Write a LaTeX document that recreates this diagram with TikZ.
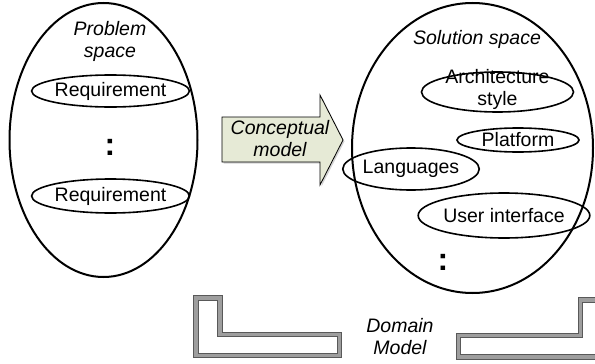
\documentclass[tikz,border=0pt]{standalone}
\usepackage{fontspec}
\setmainfont{Liberation Sans}
\usetikzlibrary{shapes.geometric,shadows}
\begin{document}
\begin{tikzpicture}[x=1pt,y=-1pt,
  space/.style={ellipse, draw, line width=2pt, inner sep=0pt},
  item/.style={ellipse, draw, line width=1.6pt, inner sep=0pt, font=\fontsize{19.5}{22}\selectfont, align=center},
  label/.style={font=\fontsize{19.5}{22}\selectfont\itshape, align=center, inner sep=0pt},
  dots/.style={font=\fontsize{32}{32}\selectfont\bfseries, inner sep=0pt},
  pipe/.style={draw=black!65, line width=1pt, double=black!38, double distance=3.5pt, line join=miter}
]
\useasboundingbox (0,0) rectangle (595,364);
\clip (0,0) rectangle (595,364);

% problem space
\node[space, minimum width=188pt, minimum height=274pt] (ps) at (103.5,140) {};
\node[label] (pst) at (110,41) {Problem\\space};
\node[item, minimum width=152pt, minimum height=32pt] (r1) at (110.5,91) {Requirement};
\node[dots] (pd) at (110,147) {:};
\node[item, minimum width=152pt, minimum height=34pt] (r2) at (110.5,196) {Requirement};

% conceptual model arrow
\path[draw=black, line width=0.8pt, fill={rgb,255:red,230;green,234;blue,214},
      drop shadow={shadow xshift=1.5pt, shadow yshift=-1.5pt, fill=black!35}]
  (222,117) -- (320,117) -- (320,95) -- (343,140) -- (320,185) -- (320,162) -- (222,162) -- cycle;
\node[label] (cm) at (280,139) {Conceptual\\model};

% solution space
\node[space, minimum width=241pt, minimum height=290pt] (ss) at (472.5,148) {};
\node[label] (sst) at (477,39) {Solution space};
\node[item, minimum width=152pt, minimum height=40pt] (as) at (497.5,92) {};
\node[font=\fontsize{19.5}{22}\selectfont, align=center, inner sep=0pt] (ast) at (497.5,89) {Architecture\\style};
\node[item, minimum width=122pt, minimum height=24pt] (pf) at (518,140) {Platform};
\node[item, minimum width=118pt, minimum height=42pt] (lg) at (411,169) {Languages};
\node[item, minimum width=152pt, minimum height=45pt] (ui) at (504,215.5) {User interface};
\node[dots] (sd) at (443,262) {:};

% domain model brackets
\draw[pipe] (196,298) -- (220,298) -- (220,334.5) -- (339.5,334.5) -- (339.5,355.5) -- (196,355.5) -- cycle;
\draw[pipe] (620,300) -- (580.5,300) -- (580.5,335.5) -- (458.5,335.5) -- (458.5,357) -- (620,357);
\node[label] (dm) at (400,337) {Domain\\Model};
\end{tikzpicture}
\end{document}
